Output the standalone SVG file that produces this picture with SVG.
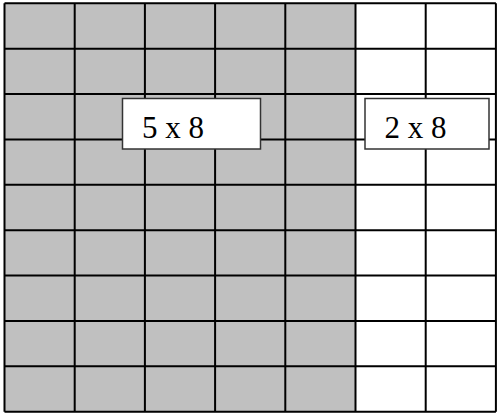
<svg xmlns="http://www.w3.org/2000/svg" width="498" height="414" viewBox="0 0 498 414">
  <style>
    .grid { stroke: #000; stroke-width: 2; fill: none; }
    .box { fill: #fff; stroke: #333; stroke-width: 1.5; }
    .lbl { font-family: "Liberation Serif", "Times New Roman", serif; font-size: 31px; fill: #000; }
  </style>
  <rect width="498" height="414" fill="#fff"/>
  <g id="shaded">
    <rect x="4.5" y="3.3" width="351" height="408.4" fill="#c0c0c0"/>
  </g>
  <g id="gridlines">
    <path class="grid" d="M4.5 3.3V411.7M74.7 3.3V411.7M144.9 3.3V411.7M215.1 3.3V411.7M285.3 3.3V411.7M355.5 3.3V411.7M425.7 3.3V411.7M495.9 3.3V411.7
      M4.5 3.3H495.9M4.5 48.7H495.9M4.5 94.1H495.9M4.5 139.4H495.9M4.5 184.8H495.9M4.5 230.2H495.9M4.5 275.6H495.9M4.5 320.9H495.9M4.5 366.3H495.9M4.5 411.7H495.9"/>
  </g>
  <g id="label-5x8">
    <rect class="box" x="122.5" y="98.5" width="138" height="50.5"/>
    <text class="lbl" x="142" y="137.5">5 x 8</text>
  </g>
  <g id="label-2x8">
    <rect class="box" x="365" y="98.5" width="124" height="50.5"/>
    <text class="lbl" x="384.5" y="137.5">2 x 8</text>
  </g>
</svg>
